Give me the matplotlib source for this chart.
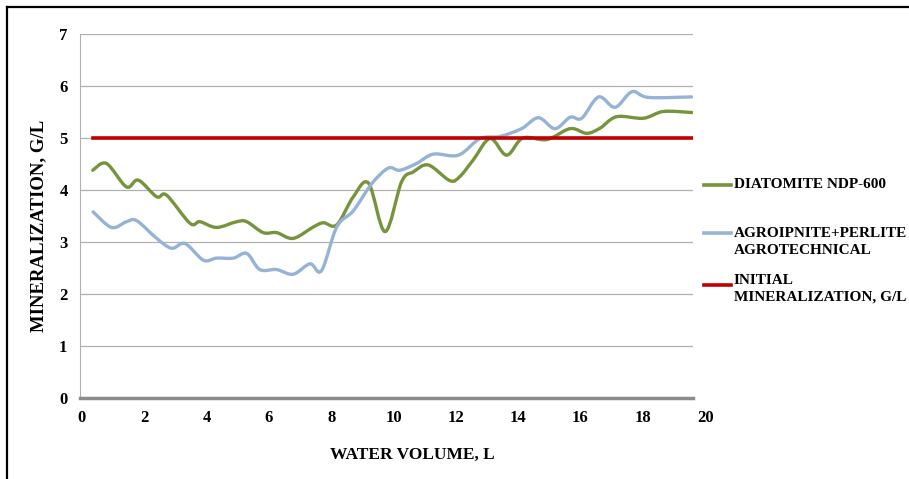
import matplotlib
matplotlib.use("Agg")
import matplotlib.pyplot as plt
from matplotlib.path import Path
from matplotlib.patches import PathPatch
from matplotlib.lines import Line2D

# values
green_x = [0.35, 0.79, 1.43, 1.81, 2.4, 2.72, 3.47, 3.79, 4.32, 4.97,
           5.29, 5.82, 6.25, 6.78, 7.43, 7.75, 8.18, 8.71, 9.2, 9.73,
           10.26, 10.64, 11.12, 11.81, 12.13, 12.56, 13.1, 13.63, 14.15, 14.92,
           15.67, 16.2, 16.63, 17.16, 18.02, 18.66, 19.57]
green_y = [4.38, 4.51, 4.06, 4.19, 3.87, 3.9, 3.36, 3.39, 3.28, 3.39,
           3.39, 3.18, 3.18, 3.07, 3.29, 3.37, 3.33, 3.87, 4.13, 3.2,
           4.16, 4.35, 4.48, 4.18, 4.26, 4.58, 4.99, 4.67, 5.0, 4.97,
           5.18, 5.09, 5.19, 5.41, 5.38, 5.51, 5.49]

blue_x = [0.36, 0.95, 1.43, 1.76, 2.4, 2.88, 3.31, 3.9, 4.32, 4.86,
          5.29, 5.71, 6.25, 6.78, 7.32, 7.69, 8.18, 8.71, 9.3, 9.83,
          10.2, 10.74, 11.28, 12.08, 12.78, 13.42, 14.11, 14.65, 15.18, 15.67,
          16.04, 16.58, 17.11, 17.65, 18.18, 19.57]
blue_y = [3.58, 3.28, 3.39, 3.41, 3.07, 2.88, 2.97, 2.65, 2.69, 2.69,
          2.78, 2.47, 2.47, 2.38, 2.58, 2.45, 3.29, 3.6, 4.12, 4.42,
          4.38, 4.51, 4.69, 4.67, 4.99, 5.03, 5.18, 5.39, 5.18, 5.4,
          5.38, 5.79, 5.59, 5.89, 5.78, 5.79]

initial_x = [0.35, 19.57]
initial_y = [5.0, 5.0]

x_ticks = [0, 2, 4, 6, 8, 10, 12, 14, 16, 18, 20]
y_ticks = [0, 1, 2, 3, 4, 5, 6, 7]

labels = ["DIATOMITE NDP-600", "AGROIPNITE+PERLITE\nAGROTECHNICAL",
          "INITIAL\nMINERALIZATION, G/L"]
colors = ["#77933C", "#95B3D7", "#C00000"]

plt.rcParams['font.family'] = ['Liberation Serif', 'DejaVu Serif']
plt.rcParams['font.weight'] = 'bold'


def smooth_path(xs, ys):
  # bezier curve through the points, like a smoothed office chart line
  verts = [(xs[0], ys[0])]
  codes = [Path.MOVETO]
  n = len(xs)
  for i in range(n - 1):
    x0, y0 = (xs[i - 1], ys[i - 1]) if i > 0 else (xs[i], ys[i])
    x1, y1 = xs[i], ys[i]
    x2, y2 = xs[i + 1], ys[i + 1]
    x3, y3 = (xs[i + 2], ys[i + 2]) if i + 2 < n else (x2, y2)
    verts.append((x1 + (x2 - x0) / 6, y1 + (y2 - y0) / 6))
    verts.append((x2 - (x3 - x1) / 6, y2 - (y3 - y1) / 6))
    verts.append((x2, y2))
    codes += [Path.CURVE4] * 3
  return Path(verts, codes)


fig = plt.figure(figsize=(9.09, 4.79), dpi=100)
ax = fig.add_axes([80 / 909, 1 - 398 / 479, 613 / 909, 364 / 479])

ax.set_xlim(-0.06, 19.61)
ax.set_ylim(0, 7)

ax.add_patch(PathPatch(smooth_path(green_x, green_y), fill=False,
                       edgecolor=colors[0], lw=2.4, capstyle='round', zorder=3))
ax.add_patch(PathPatch(smooth_path(blue_x, blue_y), fill=False,
                       edgecolor=colors[1], lw=2.4, capstyle='round', zorder=3))
ax.plot(initial_x, initial_y, color=colors[2], lw=2.6, zorder=4)

tick_pad = 9
ax.set_yticks(y_ticks)
ax.set_yticklabels([str(v) for v in y_ticks], fontsize=12, fontweight='bold')
ax.set_xticks(x_ticks[:-1])
ax.set_xticklabels([str(v) for v in x_ticks[:-1]], fontsize=12, fontweight='bold')
ax.annotate(str(x_ticks[-1]), xy=(x_ticks[-1], 0), xycoords=('data', 'axes fraction'),
            xytext=(0, -tick_pad), textcoords='offset points', ha='center', va='top',
            fontsize=12, fontweight='bold', annotation_clip=False)
ax.tick_params(length=0, pad=tick_pad)

ax.grid(axis='y', color='#b0b0b0', lw=0.9)
ax.set_axisbelow(True)
for s in ['top', 'right']:
  ax.spines[s].set_visible(False)
ax.spines['left'].set_color('#b0b0b0')
ax.spines['bottom'].set_color('#8c8c8c')
ax.spines['bottom'].set_linewidth(2.5)

ax.set_xlabel("WATER VOLUME, L", fontsize=12.5, fontweight='bold')
ax.xaxis.set_label_coords((412 - 80) / 613, -(447 - 398) / 364)
ax.set_ylabel("MINERALIZATION, G/L", fontsize=13.5, fontweight='bold')
ax.yaxis.set_label_coords((47 - 80) / 613, (398 - 226) / 364)

# legend on the right, drawn by hand
legend_y = [185, 233, 285]
text_y = [185, 242, 289]
for c, lab, ly, ty in zip(colors, labels, legend_y, text_y):
  fig.add_artist(Line2D([704 / 909, 731 / 909], [1 - ly / 479, 1 - ly / 479],
                        color=c, lw=2.6))
  fig.text(734 / 909, 1 - ty / 479, lab, fontsize=11, fontweight='bold',
           va='center', ha='left', linespacing=1.4)

# page frame (left and top edges)
fig.add_artist(Line2D([7 / 909, 7 / 909], [0, 1 - 7 / 479], color='black', lw=1.6))
fig.add_artist(Line2D([7 / 909, 1], [1 - 7 / 479, 1 - 7 / 479], color='black', lw=1.6))

fig.savefig("out.png", dpi=100)
